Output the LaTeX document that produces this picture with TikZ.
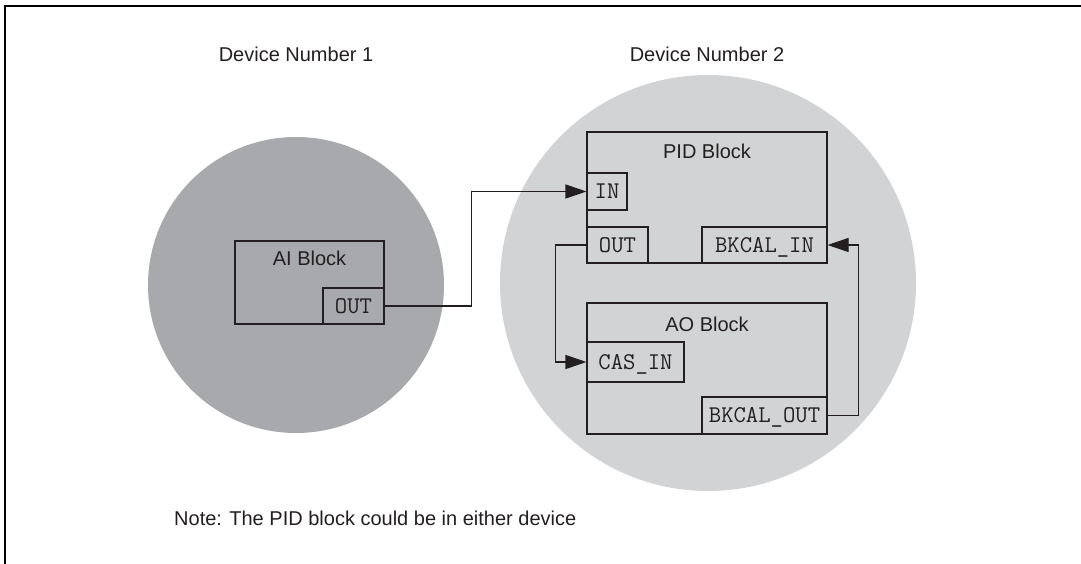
\documentclass[tikz,border=0pt]{standalone}
\usepackage{fontspec}
\setmainfont{Liberation Sans}
\usetikzlibrary{arrows.meta}
\definecolor{darkdev}{HTML}{A7A9AC}
\definecolor{lightdev}{HTML}{D1D3D4}
\definecolor{ink}{HTML}{231F20}
\begin{document}
\begin{tikzpicture}[x=1pt,y=-1pt,
  block/.style={draw=ink, line width=1.1pt, rectangle, inner sep=0pt},
  port/.style={draw=ink, line width=1.1pt, rectangle, inner sep=0pt, text=ink,
    font=\fontsize{24}{24}\selectfont\ttfamily, text height=14.5pt, text depth=0pt},
  title/.style={inner sep=0pt, text=ink, font=\fontsize{20}{24}\selectfont},
  conn/.style={draw=ink, line width=1.1pt},
  arr/.style={conn, -{Triangle[length=21pt, width=14pt]}}]
\useasboundingbox (0,0) rectangle (1081,564);
\fill[white] (0,0) rectangle (1081,564);
\draw[line width=2.5pt, black] (5,564) -- (5,6) -- (1081,6);
% devices
\fill[darkdev] (296,285) circle[radius=148pt];
\fill[lightdev] (708,283) circle[radius=208pt];
\node[title, anchor=base] (dev1) at (296,62) {Device Number 1};
\node[title, anchor=base] (dev2) at (707,62) {Device Number 2};
% AI block
\node[block, minimum width=149pt, minimum height=83pt] (ai) at (309.5,282.5) {};
\node[title, anchor=base] (aititle) at (309.5,265) {AI Block};
\node[port, minimum width=61pt, minimum height=36pt] (aiout) at (353.5,306) {OUT};
% PID block
\node[block, minimum width=240pt, minimum height=131pt] (pid) at (707,197.5) {};
\node[title, anchor=base] (pidtitle) at (707,159) {PID Block};
\node[port, minimum width=40pt, minimum height=37pt] (pidin) at (607,191.5) {IN};
\node[port, minimum width=61pt, minimum height=36pt] (pidout) at (617.5,245) {OUT};
\node[port, minimum width=125pt, minimum height=36pt] (bkin) at (764.5,245) {BKCAL\_IN};
% AO block
\node[block, minimum width=240pt, minimum height=131pt] (ao) at (707,368.5) {};
\node[title, anchor=base] (aotitle) at (707,331) {AO Block};
\node[port, minimum width=97pt, minimum height=40pt] (casin) at (635.5,362) {CAS\_IN};
\node[port, minimum width=125pt, minimum height=37pt] (bkout) at (764.5,415.5) {BKCAL\_OUT};
% connectors
\draw[arr] (aiout.east) -- ++(87,0) |- (pidin.west);
\draw[arr] (pidout.west) -- ++(-31,0) |- (casin.west);
\draw[arr] (bkout.east) -- ++(31,0) |- (bkin.east);
% note
\node[title, anchor=base west] (note) at (174,525) {Note: The PID block could be in either device};
\end{tikzpicture}
\end{document}
